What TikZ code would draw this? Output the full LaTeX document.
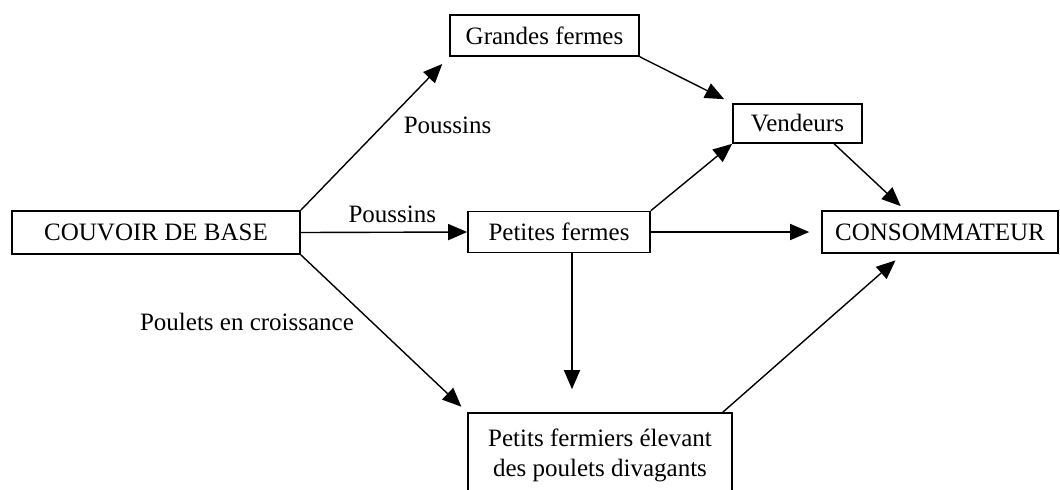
\documentclass[tikz,border=0pt]{standalone}
\usepackage{fontspec}
\setmainfont{Liberation Serif}
\usetikzlibrary{arrows.meta}

\begin{document}
\begin{tikzpicture}[
    x=0.5pt, y=-0.5pt,
    every node/.style={font=\fontsize{12.5}{15}\selectfont},
    box/.style={draw, line width=0.8pt, inner sep=0pt, align=center},
    flow/.style={line width=0.7pt, -{Triangle[length=9.5pt,width=8pt]}}
  ]
  \useasboundingbox (0,0) rectangle (1060,489);

  % boxes
  \node[box, minimum width=144pt, minimum height=21.5pt] (base) at (156,232.5) {COUVOIR DE BASE};
  \node[box, minimum width=94.5pt, minimum height=20.5pt] (grandes) at (544.5,35.5) {Grandes fermes};
  \node[box, minimum width=64.5pt, minimum height=19.5pt] (vendeurs) at (797.5,123.5) {Vendeurs};
  \node[box, minimum width=91pt, minimum height=20.5pt] (petites) at (559,232) {Petites fermes};
  \node[box, minimum width=118pt, minimum height=21pt] (conso) at (940,232) {CONSOMMATEUR};
  \node[box, minimum width=132pt, minimum height=42pt] (divag) at (600,455)
    {Petits fermiers élevant\\des poulets divagants};

  % flows
  \draw[flow, shorten >=5pt] (base.north east) -- (grandes.south west)
    node[pos=0.55, right=7pt] (lab1) {Poussins};
  \draw[flow] (base.east) -- (petites.west)
    node[pos=0.55, above=1pt] (lab2) {Poussins};
  \draw[flow, shorten >=4pt] (base.south east) -- (divag.north west);
  \node (lab3) at (247,322) {Poulets en croissance};
  \draw[flow, shorten >=4.5pt] (grandes.south east) -- (vendeurs.north west);
  \draw[flow] (petites.north east) -- (vendeurs.south west);
  \draw[flow, shorten >=6pt] (petites.east) -- (conso.west);
  \draw[flow, shorten >=3pt] (vendeurs.-29) -- (conso.148);
  \draw[flow, shorten >=11.5pt] ([xshift=6.5pt]petites.south)
    -- ([xshift=6.5pt]petites.south |- divag.north);
  \draw[flow, shorten >=5pt] ([xshift=-5pt]divag.north east) -- ([xshift=-18.5pt]conso.south);
\end{tikzpicture}
\end{document}
